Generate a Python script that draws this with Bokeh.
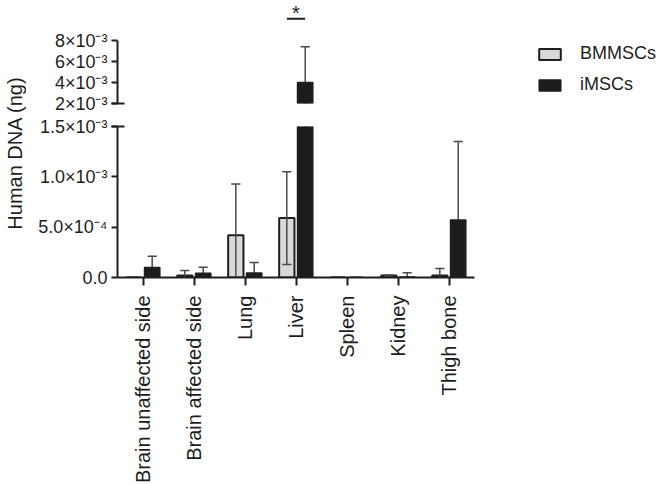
import numpy as np
from math import pi
from bokeh.plotting import figure
from bokeh.models import (ColumnDataSource, FactorRange, Range1d, FixedTicker,
                          Legend, LegendItem, Label, CDSView, BooleanFilter)
from bokeh.transform import dodge
from bokeh.layouts import row, column
from bokeh.embed import file_html
from bokeh.resources import INLINE
from bokeh.core.properties import value

# ---------------- data ----------------
categories = ["Brain unaffected side", "Brain affected side", "Lung", "Liver",
              "Spleen", "Kidney", "Thigh bone"]
bm_mean = [0.0, 0.2e-4, 4.2e-4, 5.9e-4, 0.0, 0.2e-4, 0.2e-4]
bm_sd = [0.0, 0.5e-4, 5.1e-4, 4.6e-4, 0.0, 0.05e-4, 0.7e-4]
im_mean = [1.0e-4, 0.43e-4, 0.45e-4, 4.0e-3, 0.0, 0.05e-4, 5.7e-4]
im_sd = [1.1e-4, 0.6e-4, 1.05e-4, 3.4e-3, 0.0, 0.42e-4, 7.8e-4]
series_names = ["BMMSCs", "iMSCs"]
lower_ticks = [0, 5e-4, 1e-3, 1.5e-3]
lower_tick_labels = ["0.0", "5.0×10⁻⁴", "1.0×10⁻³", "1.5×10⁻³"]
upper_ticks = [2e-3, 4e-3, 6e-3, 8e-3]
upper_tick_labels = ["2×10⁻³", "4×10⁻³", "6×10⁻³", "8×10⁻³"]
y_label = "Human DNA (ng)"
sig_category = "Liver"
sig_text = "*"

# ---------------- style ----------------
FONT = "Liberation Sans"
INK = "#1e1e1e"
BM_FILL = "#d9d9d9"
IM_FILL = "#1c1c1c"
WHISK = "#4a4a4a"
OFF = 0.18
BAR_W = 0.30
CAP = 0.09

bm_mean_a = np.array(bm_mean); bm_sd_a = np.array(bm_sd)
im_mean_a = np.array(im_mean); im_sd_a = np.array(im_sd)
src = ColumnDataSource(dict(
    cat=categories,
    bm=bm_mean_a, bm_hi=bm_mean_a + bm_sd_a, bm_lo=bm_mean_a - bm_sd_a,
    im=im_mean_a, im_hi=im_mean_a + im_sd_a, im_lo=im_mean_a - im_sd_a,
))

xr = FactorRange(*categories, range_padding=0)

LAB_W = 26
FRAME_W = 357
LEFT = 117 - LAB_W

BM_STYLE = dict(fill_color=BM_FILL, line_color=INK, line_width=2)
IM_STYLE = dict(fill_color=IM_FILL, line_color=INK, line_width=1.5)


def whiskers(p, key, off, view):
    p.segment(x0=dodge("cat", off, range=xr), x1=dodge("cat", off, range=xr),
              y0=key + "_lo", y1=key + "_hi", source=src, view=view,
              line_color=WHISK, line_width=1.5)
    for end in ("_hi", "_lo"):
        p.segment(x0=dodge("cat", off - CAP, range=xr), x1=dodge("cat", off + CAP, range=xr),
                  y0=key + end, y1=key + end, source=src, view=view,
                  line_color=WHISK, line_width=1.5)


def draw(p, view_bm, view_im):
    whiskers(p, "im", OFF, view_im)
    r_bm = p.vbar(x=dodge("cat", -OFF, range=xr), top="bm", bottom=0, width=BAR_W,
                  source=src, view=view_bm, **BM_STYLE)
    r_im = p.vbar(x=dodge("cat", OFF, range=xr), top="im", bottom=0, width=BAR_W,
                  source=src, view=view_im, **IM_STYLE)
    whiskers(p, "bm", -OFF, view_bm)
    return r_bm, r_im


def style_yaxis(ax, ticks, labels, cap_tick):
    ax.ticker = FixedTicker(ticks=ticks, minor_ticks=[cap_tick])
    ax.major_label_overrides = {t: l for t, l in zip(ticks, labels)}
    ax.major_label_text_font = FONT
    ax.major_label_text_font_size = "18px"
    ax.major_label_text_color = INK
    ax.axis_line_color = INK
    ax.axis_line_width = 2
    ax.major_tick_line_color = INK
    ax.major_tick_line_width = 2
    ax.major_tick_out = 6
    ax.major_tick_in = 0
    ax.minor_tick_line_color = INK
    ax.minor_tick_line_width = 2
    ax.minor_tick_out = 6
    ax.minor_tick_in = 7
    ax.major_label_standoff = 4


# ---------------- upper (broken) panel ----------------
UP_H = 103
UP_B = 11
up_end = upper_ticks[0] + UP_H * ((upper_ticks[-1] - upper_ticks[0]) / 63.0)
up = figure(x_range=xr, y_range=Range1d(upper_ticks[0], up_end), frame_width=FRAME_W, frame_height=UP_H,
            min_border_left=LEFT, min_border_right=184, min_border_top=0, min_border_bottom=UP_B,
            x_axis_location=None, output_backend="svg", toolbar_location=None, title=None)
up.grid.visible = False
up.outline_line_color = None
up_view_bm = CDSView(filter=BooleanFilter(list(bm_mean_a > upper_ticks[0])))
up_view_im = CDSView(filter=BooleanFilter(list(im_mean_a > upper_ticks[0])))
draw(up, up_view_bm, up_view_im)
style_yaxis(up.yaxis[0], upper_ticks, upper_tick_labels, upper_ticks[0])
up.yaxis[0].bounds = (upper_ticks[0], upper_ticks[-1])

# hidden renderers that only feed the legend swatches
leg_bm = up.vbar(x=dodge("cat", -OFF, range=xr), top="bm", bottom=0, width=BAR_W,
                 source=src, visible=False, **BM_STYLE)
leg_im = up.vbar(x=dodge("cat", OFF, range=xr), top="im", bottom=0, width=BAR_W,
                 source=src, visible=False, **IM_STYLE)

# significance marker
sig_y = 0.01007
star_y = 0.01062
up.segment(x0=dodge("c", -OFF, range=xr), x1=dodge("c", OFF, range=xr), y0="y", y1="y",
           source=ColumnDataSource(dict(c=[sig_category], y=[sig_y])),
           line_color=INK, line_width=2)
up.text(x=dodge("c", 0, range=xr), y="y", text="t",
        source=ColumnDataSource(dict(c=[sig_category], y=[star_y], t=[sig_text])),
        text_font=value(FONT), text_font_size="20px", text_color=INK,
        text_align="center", text_baseline="middle")

legend = Legend(items=[LegendItem(label=series_names[0], renderers=[leg_bm]),
                       LegendItem(label=series_names[1], renderers=[leg_im])],
                location=(62, 8), orientation="vertical",
                glyph_width=27, glyph_height=14, label_height=14, label_standoff=17,
                spacing=10, padding=0, margin=0,
                label_text_font=FONT, label_text_font_size="18px", label_text_color=INK,
                inactive_fill_alpha=0, border_line_color=None, background_fill_alpha=0)
up.add_layout(legend, "right")

# ---------------- lower panel ----------------
LO_H = 151
lo = figure(x_range=xr, y_range=Range1d(lower_ticks[0], lower_ticks[-1]),
            frame_width=FRAME_W, frame_height=LO_H,
            min_border_left=LEFT, min_border_right=10, min_border_top=12, min_border_bottom=206,
            output_backend="svg", toolbar_location=None, title=None)
lo.grid.visible = False
lo.outline_line_color = None
draw(lo, CDSView(), CDSView())
style_yaxis(lo.yaxis[0], lower_ticks, lower_tick_labels, lower_ticks[-1])

xa = lo.xaxis[0]
xa.major_label_orientation = pi / 2
xa.major_label_text_font = FONT
xa.major_label_text_font_size = "20px"
xa.major_label_text_color = INK
xa.axis_line_color = INK
xa.axis_line_width = 2
xa.major_tick_line_color = INK
xa.major_tick_line_width = 2
xa.major_tick_out = 8
xa.major_tick_in = 0
xa.major_label_standoff = 10

# ---------------- y label column ----------------
TOTAL_H = (UP_H + UP_B) + (12 + LO_H + 206)
lab = figure(width=LAB_W, height=TOTAL_H, x_range=Range1d(0, 1), y_range=Range1d(0, 1),
             min_border=0, x_axis_location=None, y_axis_location=None,
             output_backend="svg", toolbar_location=None, title=None)
lab.grid.visible = False
lab.outline_line_color = None
lab.add_layout(Label(x=14, y=TOTAL_H - 152.5, x_units="screen", y_units="screen",
                     text=y_label, angle=pi / 2, text_align="center", text_baseline="middle",
                     text_font=FONT, text_font_size="20px", text_color=INK))

layout = row(lab, column(up, lo, spacing=0), spacing=0)
open("out.html", "w").write(file_html(layout, INLINE))
